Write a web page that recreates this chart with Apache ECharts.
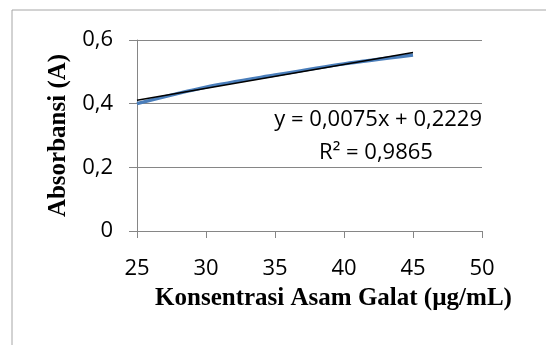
<!DOCTYPE html>
<html>
<head>
<meta charset="utf-8">
<script src="https://cdn.jsdelivr.net/npm/echarts@6/dist/echarts.min.js"></script>
<style>
  html, body { margin: 0; padding: 0; background: #fff; }
  #chart { width: 546px; height: 345px; }
</style>
</head>
<body>
<div id="chart"></div>
<script>
// konsentrasi (µg/mL) dan absorbansi hasil pengukuran
var konsentrasi = [25, 30, 35, 40, 45];
var absorbansi = [0.400, 0.452, 0.490, 0.525, 0.553];
// garis regresi y = 0,0075x + 0,2229
var slope = 0.0075;
var intercept = 0.2229;
var trendX = [25, 45];
var eqText = 'y = 0,0075x + 0,2229';
var r2Text = 'R² = 0,9865';

var fmt = function (v) { return String(v).replace('.', ','); };

var chart = echarts.init(document.getElementById('chart'));
chart.setOption({
    animation: false,
    graphic: [
        {
            type: 'rect',
            shape: { x: 12, y: 10, width: 600, height: 400 },
            style: { fill: 'none', stroke: '#a6a6a6', lineWidth: 1 }
        },
        {
            type: 'text', x: 482, y: 120,
            style: { text: eqText, font: '22px "Open Sans"', fill: '#000', align: 'right', verticalAlign: 'middle' }
        },
        {
            type: 'text', x: 376, y: 153,
            style: { text: r2Text, font: '22px "Open Sans"', fill: '#000', align: 'center', verticalAlign: 'middle' }
        }
    ],
    grid: { left: 137, right: 64, top: 40, bottom: 114 },
    xAxis: {
        type: 'value',
        min: 25, max: 50, interval: 5,
        name: 'Konsentrasi Asam Galat (µg/mL)',
        nameLocation: 'middle',
        nameGap: 55,
        nameTextStyle: { fontFamily: 'Liberation Serif', fontWeight: 'bold', fontSize: 25, color: '#000', padding: [0, 0, 0, 48] },
        axisLine: { lineStyle: { color: '#868686' } },
        axisTick: { show: true, length: 7, lineStyle: { color: '#868686' } },
        axisLabel: { fontFamily: 'Open Sans', fontSize: 22, color: '#000', margin: 27 },
        splitLine: { show: false }
    },
    yAxis: {
        type: 'value',
        min: 0, max: 0.6, interval: 0.2,
        name: 'Absorbansi (A)',
        nameLocation: 'middle',
        nameGap: 63,
        nameTextStyle: { fontFamily: 'Liberation Serif', fontWeight: 'bold', fontSize: 25, color: '#000' },
        axisLine: { show: true, lineStyle: { color: '#868686' } },
        axisTick: { show: true, length: 8, lineStyle: { color: '#868686' } },
        axisLabel: { fontFamily: 'Open Sans', fontSize: 22, color: '#000', margin: 24, formatter: fmt },
        splitLine: { lineStyle: { color: '#868686' } }
    },
    series: [
        {
            type: 'line',
            smooth: 0.3,
            showSymbol: false,
            lineStyle: { color: '#4a7ebb', width: 3.5 },
            data: konsentrasi.map(function (x, i) { return [x, absorbansi[i]]; })
        },
        {
            type: 'line',
            showSymbol: false,
            lineStyle: { color: '#000', width: 1.5 },
            data: trendX.map(function (x) { return [x, slope * x + intercept]; })
        }
    ]
});
</script>
</body>
</html>
